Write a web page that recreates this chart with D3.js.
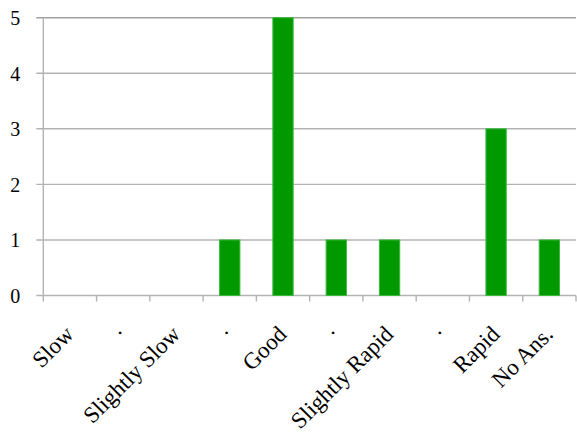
<!DOCTYPE html>
<html>
<head>
<meta charset="utf-8">
<script src="https://cdn.jsdelivr.net/npm/d3@7"></script>
<style>
  html, body { margin: 0; padding: 0; background: #fff; }
  svg { display: block; }
  svg text { font-family: "Liberation Serif", "Times New Roman", Times, serif; fill: #000; }
</style>
</head>
<body>
<svg id="chart" width="577" height="434"></svg>
<script>
// Response counts per answer category
const categories = ["Slow", "·", "Slightly Slow", "·", "Good", "·", "Slightly Rapid", "·", "Rapid", "No Ans."];
const counts = [0, 0, 0, 1, 5, 1, 1, 0, 3, 1];
const yTicks = [0, 1, 2, 3, 4, 5];

const svg = d3.select("#chart");
const margin = { left: 43.3, right: 1, top: 17.7, bottom: 138.5 };
const W = 577, H = 434;
const innerW = W - margin.left - margin.right;
const innerH = H - margin.top - margin.bottom;

const x = d3.scaleBand()
  .domain(d3.range(categories.length))
  .range([0, innerW])
  .paddingInner(0.6)
  .paddingOuter(0.3);

const y = d3.scaleLinear().domain([0, 5]).range([innerH, 0]);

const g = svg.append("g").attr("transform", `translate(${margin.left},${margin.top})`);

// Horizontal gridlines with short outer ticks
const gridColor = "#b3b3b3";
g.selectAll("line.grid")
  .data(yTicks)
  .join("line")
  .attr("class", "grid")
  .attr("x1", -7)
  .attr("x2", innerW)
  .attr("y1", d => y(d))
  .attr("y2", d => y(d))
  .attr("stroke", d => d === 5 ? "#a0a0a0" : gridColor)
  .attr("stroke-width", 1.4);

// Y axis labels
const yAxis = d3.axisLeft(y).tickValues(yTicks).tickSize(0).tickPadding(23).tickFormat(d3.format("d"));
const ya = g.append("g").call(yAxis);
ya.select(".domain").remove();
ya.selectAll("text")
  .style("font-family", "'Liberation Serif', 'Times New Roman', serif")
  .style("font-size", "20px")
  .attr("fill", "#000")
  .attr("dy", "0.34em");

// Vertical axis line
g.append("line")
  .attr("x1", 0).attr("x2", 0)
  .attr("y1", 0).attr("y2", innerH)
  .attr("stroke", gridColor)
  .attr("stroke-width", 1.4);

// Category boundary ticks
const step = x.step();
g.selectAll("line.ctick")
  .data(d3.range(categories.length + 1))
  .join("line")
  .attr("class", "ctick")
  .attr("x1", i => i * step)
  .attr("x2", i => i * step)
  .attr("y1", innerH)
  .attr("y2", innerH + 6)
  .attr("stroke", gridColor)
  .attr("stroke-width", 1.4);

// Bars
g.selectAll("rect.bar")
  .data(counts.map((v, i) => ({ v, i })).filter(d => d.v > 0))
  .join("rect")
  .attr("class", "bar")
  .attr("x", d => x(d.i) + 0.5)
  .attr("width", x.bandwidth() - 1)
  .attr("y", d => y(d.v))
  .attr("height", d => y(0) - y(d.v))
  .attr("fill", "#009900")
  .attr("stroke", "#3cb83c")
  .attr("stroke-width", 1);

// Rotated category labels
g.selectAll("text.cat")
  .data(categories)
  .join("text")
  .attr("class", "cat")
  .attr("text-anchor", "end")
  .style("font-family", "'Liberation Serif', 'Times New Roman', serif")
  .style("font-size", "23px")
  .attr("transform", (d, i) => `translate(${x(i) + x.bandwidth() / 2 + 5},${innerH + 40}) rotate(-45)`)
  .text(d => d);
</script>
</body>
</html>
